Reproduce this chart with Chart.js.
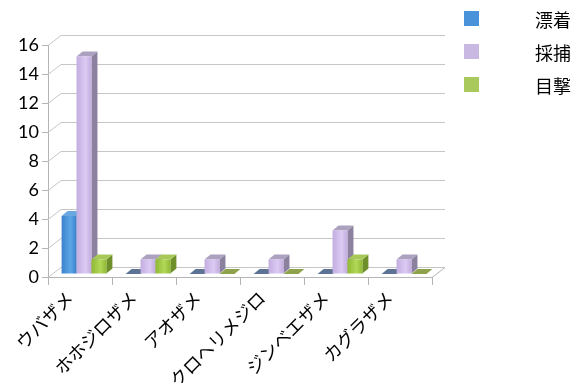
<!DOCTYPE html>
<html>
<head>
<meta charset="utf-8">
<script src="https://cdn.jsdelivr.net/npm/chart.js@4.4.1/dist/chart.umd.min.js"></script>
<style>
  html, body { margin: 0; padding: 0; background: #fff; }
  #wrap { width: 579px; height: 383px; }
</style>
</head>
<body>
<div id="wrap"><canvas id="myChart" width="579" height="383"></canvas></div>
<script>
// Shark records by species
const categories = ['ウバザメ', 'ホホジロザメ', 'アオザメ', 'クロヘリメジロ', 'ジンベエザメ', 'カグラザメ'];
const seriesNames = ['漂着', '採捕', '目撃'];
const stranded = [4, 0, 0, 0, 0, 0];
const caught = [15, 1, 1, 1, 3, 1];
const sighted = [1, 1, 0, 0, 1, 0];
const yMin = 0;
const yMax = 16;
const yStep = 2;

// face colours for each series: front gradient, side, top, flat (zero) slab
const palette = [
  { front: ['#3a82cc', '#5ca6e6'], side: '#2f69a6', top: '#6aa8e0', flat: '#5c7396', key: '#4a92da' },
  { front: ['#c2ade0', '#dccaf2'], side: '#8c819f', top: '#aca1bf', flat: '#8f86a8', key: '#c9b9e2' },
  { front: ['#8fb934', '#b3d858'], side: '#6f8f2a', top: '#a8c95a', flat: '#8ea24c', key: '#a9c95c' }
];

// depth of the box and of the bars
const wallDx = 13, wallDy = -10;
const barOx = 4, barOy = -3;
const barDx = 6, barDy = -5;

const gridColor = '#c6c6c6';
const axisColor = '#b4b4b4';

const walls = {
  id: 'walls',
  beforeDatasetsDraw(chart) {
    const ctx = chart.ctx;
    const y = chart.scales.y;
    const a = chart.chartArea;
    ctx.save();
    ctx.lineWidth = 1;
    ctx.strokeStyle = gridColor;
    for (let v = yMin; v <= yMax; v += yStep) {
      const py = Math.round(y.getPixelForValue(v)) + 0.5;
      ctx.beginPath();
      ctx.moveTo(a.left, py);
      ctx.lineTo(a.left + wallDx, py + wallDy);
      ctx.lineTo(a.right + wallDx, py + wallDy);
      ctx.stroke();
    }
    // floor edge on the right
    const py0 = Math.round(y.getPixelForValue(0)) + 0.5;
    ctx.strokeStyle = axisColor;
    ctx.beginPath();
    ctx.moveTo(a.right, py0);
    ctx.lineTo(a.right + wallDx, py0 + wallDy);
    ctx.stroke();
    ctx.restore();
  }
};

const bars3d = {
  id: 'bars3d',
  afterDatasetsDraw(chart) {
    const ctx = chart.ctx;
    const n = chart.data.labels.length;
    ctx.save();
    for (let i = 0; i < n; i++) {
      chart.data.datasets.forEach((ds, d) => {
        const bar = chart.getDatasetMeta(d).data[i];
        const c = palette[d];
        const x0 = bar.x - bar.width / 2 + barOx;
        const x1 = bar.x + bar.width / 2 + barOx;
        const yt = bar.y + barOy;
        const yb = bar.base + barOy;
        if (yb - yt < 1) {
          // zero value: thin slab lying on the floor
          ctx.fillStyle = c.flat;
          ctx.beginPath();
          ctx.moveTo(x0, yb);
          ctx.lineTo(x1, yb);
          ctx.lineTo(x1 + barDx, yb + barDy);
          ctx.lineTo(x0 + barDx, yb + barDy);
          ctx.closePath();
          ctx.fill();
          return;
        }
        // side
        ctx.fillStyle = c.side;
        ctx.beginPath();
        ctx.moveTo(x1, yt);
        ctx.lineTo(x1 + barDx, yt + barDy);
        ctx.lineTo(x1 + barDx, yb + barDy);
        ctx.lineTo(x1, yb);
        ctx.closePath();
        ctx.fill();
        // top
        ctx.fillStyle = c.top;
        ctx.beginPath();
        ctx.moveTo(x0, yt);
        ctx.lineTo(x1, yt);
        ctx.lineTo(x1 + barDx, yt + barDy);
        ctx.lineTo(x0 + barDx, yt + barDy);
        ctx.closePath();
        ctx.fill();
        // front
        const g = ctx.createLinearGradient(x0, 0, x1, 0);
        g.addColorStop(0, c.front[0]);
        g.addColorStop(0.6, c.front[1]);
        g.addColorStop(1, c.front[0]);
        ctx.fillStyle = g;
        ctx.fillRect(x0, yt, x1 - x0, yb - yt);
      });
    }
    ctx.restore();
  }
};

const sideLegend = {
  id: 'sideLegend',
  afterDraw(chart) {
    const ctx = chart.ctx;
    ctx.save();
    ctx.font = '18px "Noto Sans CJK JP"';
    ctx.textBaseline = 'middle';
    ctx.textAlign = 'left';
    chart.data.datasets.forEach((ds, d) => {
      const top = 11 + d * 33;
      ctx.fillStyle = palette[d].key;
      ctx.fillRect(464, top, 15, 15);
      ctx.fillStyle = '#000';
      ctx.fillText(ds.label, 535, top + 9);
    });
    ctx.restore();
  }
};

const ctx = document.getElementById('myChart').getContext('2d');
const myChart = new Chart(ctx, {
  type: 'bar',
  data: {
    labels: categories,
    datasets: [stranded, caught, sighted].map((vals, d) => ({
      label: seriesNames[d],
      data: vals,
      backgroundColor: 'rgba(0,0,0,0)',
      borderWidth: 0,
      categoryPercentage: 0.7,
      barPercentage: 1.0
    }))
  },
  options: {
    responsive: false,
    animation: false,
    events: [],
    layout: { padding: { top: 45, right: 147, left: 0, bottom: 0 } },
    plugins: { legend: { display: false }, tooltip: { enabled: false } },
    scales: {
      x: {
        grid: { offset: true, drawOnChartArea: false, drawTicks: true, tickLength: 8, color: axisColor },
        border: { color: axisColor },
        ticks: {
          minRotation: 45, maxRotation: 45, autoSkip: false,
          labelOffset: -10, padding: 2,
          color: '#000',
          font: { family: '"Noto Sans CJK JP"', size: 18 }
        },
        afterFit(scale) { scale.height = 106; }
      },
      y: {
        min: yMin, max: yMax,
        grid: { drawOnChartArea: false, drawTicks: true, tickLength: 6, color: axisColor },
        border: { color: axisColor },
        ticks: {
          stepSize: yStep, padding: 3, color: '#000',
          font: { family: 'Lato', size: 18 }
        },
        afterFit(scale) { scale.width = 48; }
      }
    }
  },
  plugins: [walls, bars3d, sideLegend]
});
</script>
</body>
</html>
